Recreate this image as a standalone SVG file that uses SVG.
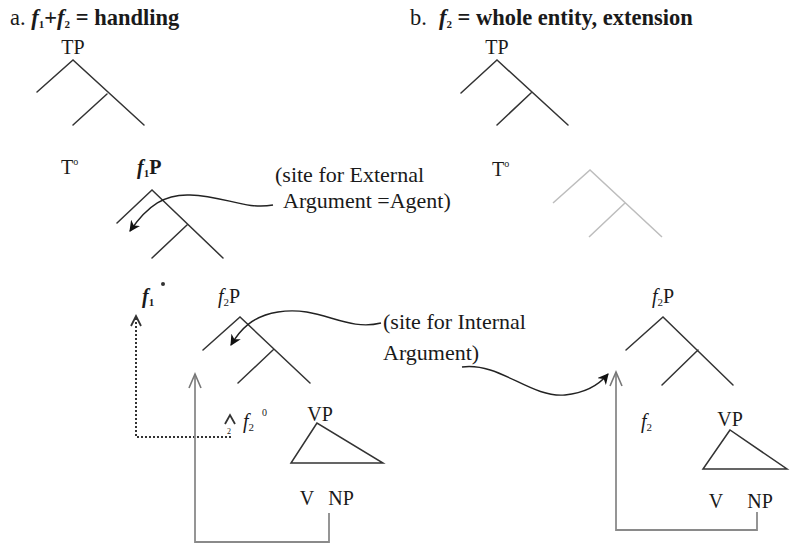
<svg xmlns="http://www.w3.org/2000/svg" width="790" height="545" viewBox="0 0 790 545">
<defs>
<style>
text{font-family:"Liberation Serif","Times New Roman",serif;fill:#1a1a1a;}
.lbl{font-size:20px;}
.note{font-size:22px;}
.tree{stroke:#333;stroke-width:1.5;fill:none;stroke-linecap:round;}
.faint{stroke:#bdbdbd;stroke-width:1.5;fill:none;}
.curve{stroke:#222;stroke-width:1.4;fill:none;}
.grey{stroke:#8a8a8a;stroke-width:1.8;fill:none;}
.dot{stroke:#333;stroke-width:2;fill:none;stroke-dasharray:2 2;}
.chev{stroke:#333;stroke-width:1.8;fill:none;}
.chevg{stroke:#777;stroke-width:1.6;fill:none;}
.it{font-style:italic;font-weight:bold;}
</style>
<marker id="ah" viewBox="0 0 10 10" refX="9" refY="5" markerWidth="11" markerHeight="11" orient="auto" markerUnits="userSpaceOnUse">
<path d="M0,0 L10,5 L0,10 L3,5 z" fill="#111"/>
</marker>
</defs>

<g id="title-a">
<text x="10" y="25" style="font-size:22.5px">a. <tspan class="it">f</tspan><tspan font-size="11" dy="3" font-weight="bold">1</tspan><tspan dy="-3" font-weight="bold">+</tspan><tspan class="it">f</tspan><tspan font-size="11" dy="3" font-weight="bold">2</tspan><tspan dy="-3" font-weight="bold"> = handling</tspan></text>
</g>
<g id="title-b">
<text x="410" y="25" style="font-size:22.5px">b.<tspan class="it" dx="12">f</tspan><tspan font-size="11" dy="3" font-weight="bold">2</tspan><tspan dy="-3" font-weight="bold"> = whole entity, extension</tspan></text>
</g>

<g id="tp-a">
<text x="73" y="54" class="lbl" text-anchor="middle">TP</text>
<path class="tree" d="M37,92 L73,60 L144,125 M107,94 L73,125"/>
</g>
<g id="t0-a"><text x="61" y="174" class="lbl">T<tspan font-size="10" dy="-9">o</tspan></text></g>

<g id="f1p">
<text x="137" y="174" class="lbl" font-weight="bold"><tspan font-style="italic">f</tspan><tspan font-size="11" dy="3">1</tspan><tspan dy="-3">P</tspan></text>
<path class="tree" d="M117,223 L152,190 L223,258 M187,225 L152,258"/>
</g>

<g id="note-external">
<text x="275" y="182" class="note">(site for External</text>
<text x="283" y="208" class="note">Argument =Agent)</text>
</g>

<g id="f1-head">
<text x="142" y="303" class="lbl" font-weight="bold"><tspan font-style="italic">f</tspan><tspan font-size="11" dy="3">1</tspan></text>
<circle cx="163" cy="284" r="2" fill="#333"/>
</g>

<g id="f2p-a">
<text x="218" y="303" class="lbl"><tspan font-style="italic">f</tspan><tspan font-size="11" dy="3">2</tspan><tspan dy="-3">P</tspan></text>
<path class="tree" d="M203,350 L240,317 L310,383 M273,350 L238,383"/>
</g>

<g id="note-internal">
<text x="383" y="329" class="note">(site for Internal</text>
<text x="383" y="360" class="note">Argument)</text>
</g>

<g id="f2-head-a">
<text x="243" y="428" class="lbl"><tspan font-style="italic">f</tspan><tspan font-size="11" dy="3">2</tspan></text>
<text x="262" y="416" font-size="10">0</text>
<text x="227" y="434" font-size="8">2</text>
</g>

<g id="vp-a">
<text x="320" y="421" class="lbl" text-anchor="middle">VP</text>
<path class="tree" d="M317,423 L291,463 L383,463 Z"/>
<text x="307" y="505" class="lbl" text-anchor="middle">V</text>
<text x="341" y="505" class="lbl" text-anchor="middle">NP</text>
</g>

<g id="tp-b">
<text x="497" y="54" class="lbl" text-anchor="middle">TP</text>
<path class="tree" d="M461,93 L497,60 L568,125 M531,93 L497,125"/>
</g>
<g id="t0-b"><text x="492" y="176" class="lbl">T<tspan font-size="10" dy="-9">o</tspan></text></g>
<g id="faint-tree">
<path class="faint" d="M553,203 L590,170 L662,237 M625,203 L589,237"/>
</g>

<g id="f2p-b">
<text x="663" y="303" class="lbl" text-anchor="middle"><tspan font-style="italic">f</tspan><tspan font-size="11" dy="3">2</tspan><tspan dy="-3">P</tspan></text>
<path class="tree" d="M626,350 L663,317 L733,385 M698,350 L662,385"/>
</g>
<g id="f2-head-b">
<text x="641" y="428" class="lbl"><tspan font-style="italic">f</tspan><tspan font-size="11" dy="3">2</tspan></text>
</g>
<g id="vp-b">
<text x="730" y="426" class="lbl" text-anchor="middle">VP</text>
<path class="tree" d="M730,430 L703,469 L787,469 Z"/>
<text x="716" y="508" class="lbl" text-anchor="middle">V</text>
<text x="760" y="508" class="lbl" text-anchor="middle">NP</text>
</g>

<g id="connectors">
<path class="curve" d="M273,205 C245,210 225,196 190,195 C165,194 148,205 130,231" marker-end="url(#ah)"/>
<path class="curve" d="M381,323 C345,332 320,305 278,312 C252,316 240,330 231,345" marker-end="url(#ah)"/>
<path class="curve" d="M462,367 C500,362 530,398 565,395 C585,393 598,386 608,374" marker-end="url(#ah)"/>
<path class="dot" d="M136,318 L136,437 L231,437"/>
<path class="chev" d="M131,326 L136,316 L141,326"/>
<path class="chev" d="M225,424 L230,415 L235,424"/>
<path class="grey" d="M195,374 L195,542 L329,542 L329,513"/>
<path class="chevg" d="M189,388 L195,374 L201,388"/>
<path class="grey" d="M616,372 L616,530 L757,530 L757,512"/>
<path class="chevg" d="M610,386 L616,372 L622,386"/>
</g>
</svg>
